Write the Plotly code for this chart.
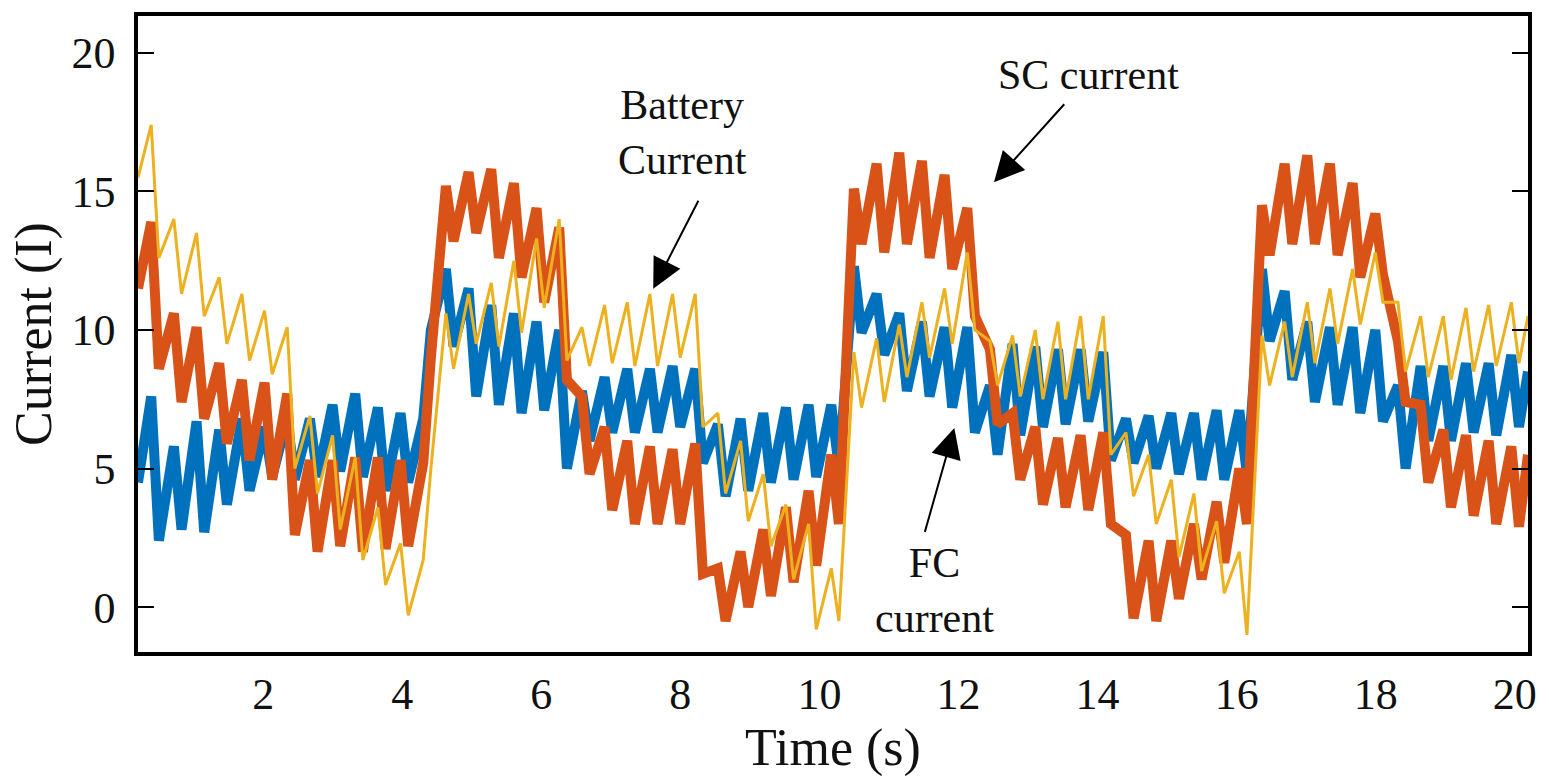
import plotly.graph_objects as go

# Times of the ripple peaks (s); each peak is followed by a fast fall to a trough
PEAK_T = [0.39, 0.716, 1.042, 1.368, 1.694, 2.02, 2.346, 2.672, 2.998, 3.324,
          3.65, 3.976, 4.302, 4.628, 4.954, 5.28, 5.606, 5.932, 6.258, 6.584,
          6.91, 7.236, 7.562, 7.888, 8.214, 8.54, 8.866, 9.192, 9.518, 9.844,
          10.17, 10.496, 10.822, 11.148, 11.474, 11.8, 12.126, 12.452, 12.778, 13.104,
          13.43, 13.756, 14.082, 14.408, 14.734, 15.06, 15.386, 15.712, 16.038, 16.364,
          16.69, 17.016, 17.342, 17.668, 17.994, 18.32, 18.646, 18.972, 19.298, 19.624,
          19.95]
FALL_T = 0.11
T_START = 0.2
T_END = 20.19

# FC current (blue)
FC_START, FC_END = 4.5, 8.5
FC_PEAKS = [7.6, 5.8, 6.7, 6.4, 6.8, 6.5, 6.8,
            6.8, 7.3, 7.7, 7.2, 7.0, 6.8,
            12.2, 11.5, 10.9, 10.6, 10.3, 10.0,
            7.8, 8.3, 8.6, 8.6, 8.7, 8.6,
            6.6, 6.8, 7.0, 7.2, 7.3, 7.3,
            12.3, 11.3, 10.6, 10.3, 10.1, 10.1,
            8.0, 9.5, 9.4, 9.3, 9.3, 9.2,
            6.8, 6.9, 7.0, 7.0, 7.1, 7.1,
            12.2, 11.4, 10.3, 10.1, 10.1, 10.0,
            8.0, 8.7, 8.7, 8.8, 8.8, 9.1]
FC_TROUGHS = [2.4, 2.8, 2.7, 3.7, 4.2, 4.7, 4.6,
              4.7, 4.9, 4.7, 4.2, 4.5, 10.0,
              9.4, 7.6, 7.3, 7.0, 7.1, 5.0,
              6.0, 6.3, 6.3, 6.3, 6.5, 5.2,
              4.0, 4.2, 4.5, 4.6, 4.7, 5.0,
              9.9, 9.1, 7.8, 7.6, 7.2, 6.3,
              5.5, 6.2, 6.5, 6.6, 6.7, 5.3,
              5.2, 5.0, 4.8, 4.6, 4.6, 4.8,
              9.6, 8.2, 7.4, 7.3, 7.0, 6.7,
              5.0, 6.0, 6.0, 6.3, 6.2, 6.5]

# SC current (red)
SC_START, SC_END = 11.5, 5.5
SC_PEAKS = [13.9, 10.6, 10.1, 8.8, 8.2, 8.1, 7.7,
            5.3, 5.3, 5.4, 5.4, 5.3, 5.2,
            15.2, 15.7, 15.8, 15.3, 14.4, 13.7,
            7.6, 6.5, 6.0, 5.8, 5.7, 5.9,
            1.4, 2.0, 2.8, 3.6, 4.2, 5.5,
            15.1, 16.0, 16.4, 16.1, 15.6, 14.4,
            9.3, 7.0, 6.5, 6.1, 6.2, 6.3,
            2.6, 2.4, 2.4, 3.0, 3.8, 5.0,
            14.5, 16.0, 16.3, 16.0, 15.3, 14.2,
            9.6, 7.3, 6.4, 6.2, 6.0, 5.8]
SC_TROUGHS = [8.6, 7.4, 6.8, 5.9, 5.3, 4.6, 2.6,
              2.0, 2.2, 2.0, 2.1, 2.2, 9.0,
              13.2, 13.5, 12.6, 11.9, 11.0, 8.2,
              4.8, 3.5, 3.0, 3.0, 3.0, 1.2,
              -0.5, 0.0, 0.4, 0.9, 1.5, 3.0,
              13.1, 12.8, 13.1, 12.6, 12.2, 10.5,
              6.6, 4.6, 3.7, 3.6, 3.5, 3.0,
              -0.4, -0.5, 0.3, 1.0, 1.6, 3.0,
              12.7, 13.1, 13.1, 12.7, 11.9, 12.0,
              7.4, 4.5, 3.6, 3.3, 3.0, 2.9]

# Battery current (yellow)
BAT_START, BAT_END = 15.5, 10.5
BAT_PEAKS = [17.4, 14.0, 13.5, 11.9, 11.3, 10.7, 10.1,
             6.9, 6.2, 5.4, 3.6, 2.3, 1.7,
             10.6, 11.3, 11.7, 12.5, 13.3, 14.0,
             10.1, 10.9, 11.0, 11.3, 11.3, 11.3,
             7.0, 6.0, 4.8, 3.7, 3.0, 1.4,
             9.2, 9.7, 10.2, 11.0, 11.5, 12.8,
             9.6, 9.8, 10.0, 10.3, 10.5, 10.5,
             6.3, 5.5, 4.6, 4.1, 3.1, 2.0,
             9.8, 10.3, 11.0, 11.5, 12.2, 12.8,
             11.0, 10.5, 10.5, 10.8, 10.9, 11.0]
BAT_TROUGHS = [12.6, 11.3, 10.5, 9.5, 8.9, 8.4, 5.0,
               4.1, 2.8, 1.7, 0.8, -0.3, 5.0,
               8.6, 9.5, 9.4, 9.9, 10.8, 8.9,
               8.7, 8.8, 8.7, 8.7, 9.0, 6.5,
               4.1, 3.1, 2.2, 1.0, -0.8, -0.5,
               7.2, 7.4, 8.3, 9.0, 9.5, 10.0,
               8.0, 7.6, 7.5, 7.5, 7.5, 5.5,
               4.0, 3.0, 1.8, 1.3, 0.5, -1.0,
               8.0, 8.3, 8.8, 9.5, 10.2, 11.0,
               8.5, 8.3, 8.2, 8.5, 8.7, 8.8]

Y_TICKS = [0, 5, 10, 15, 20]
X_TICKS = [2, 4, 6, 8, 10, 12, 14, 16, 18, 20]


def build(start, peaks, troughs, end):
    t, v = [T_START], [start]
    for pt, p, tr in zip(PEAK_T, peaks, troughs):
        t += [pt, pt + FALL_T]
        v += [p, tr]
    t.append(T_END)
    v.append(end)
    return t, v


FONT = "Liberation Serif"
fig = go.Figure()
for name, start, pk, tr, end, color, width in [
    ("FC current", FC_START, FC_PEAKS, FC_TROUGHS, FC_END, "#0072BD", 10),
    ("SC current", SC_START, SC_PEAKS, SC_TROUGHS, SC_END, "#D95319", 10),
    ("Battery current", BAT_START, BAT_PEAKS, BAT_TROUGHS, BAT_END, "#EDB120", 3),
]:
    t, v = build(start, pk, tr, end)
    fig.add_trace(go.Scatter(x=t, y=v, mode="lines", name=name,
                             line=dict(color=color, width=width), showlegend=False))

arrow = dict(xref="x", yref="y", axref="x", ayref="y", showarrow=True,
             arrowhead=2, arrowsize=3, arrowwidth=2, arrowcolor="black", text="")
txt = dict(xref="x", yref="y", showarrow=False,
           font=dict(family=FONT, size=42, color="#111"))
fig.update_layout(
    width=1549, height=778,
    margin=dict(l=138, r=19, t=13, b=126),
    paper_bgcolor="white", plot_bgcolor="white",
    font=dict(family=FONT, size=44, color="#111"),
    annotations=[
        dict(arrow, x=7.61, y=11.49, ax=8.27, ay=14.72),
        dict(arrow, x=12.51, y=15.33, ax=13.54, ay=18.2),
        dict(arrow, x=11.94, y=6.46, ax=11.51, ay=2.66),
        dict(txt, x=8.03, y=17.13, text="Battery<br>Current"),
        dict(txt, x=13.87, y=19.2, text="SC current"),
        dict(txt, x=11.66, y=0.61, text="FC<br>current"),
    ],
)
fig.update_xaxes(range=[T_START, T_END], tickvals=X_TICKS, ticks="",
                 showline=True, linewidth=3.5, linecolor="black", mirror=True,
                 showgrid=False, zeroline=False, ticklabelstandoff=0,
                 tickfont=dict(size=44),
                 title=dict(text="Time (s)", standoff=2, font=dict(size=52)))
fig.update_yaxes(range=[-1.62, 21.33], tickvals=Y_TICKS, ticks="inside",
                 ticklen=16, tickwidth=2, tickcolor="black",
                 showline=True, linewidth=3.5, linecolor="black", mirror="ticks",
                 showgrid=False, zeroline=False, ticklabelstandoff=10,
                 tickfont=dict(size=44),
                 title=dict(text="Current (I)", standoff=4, font=dict(size=52)))

fig.write_html("out.html")
